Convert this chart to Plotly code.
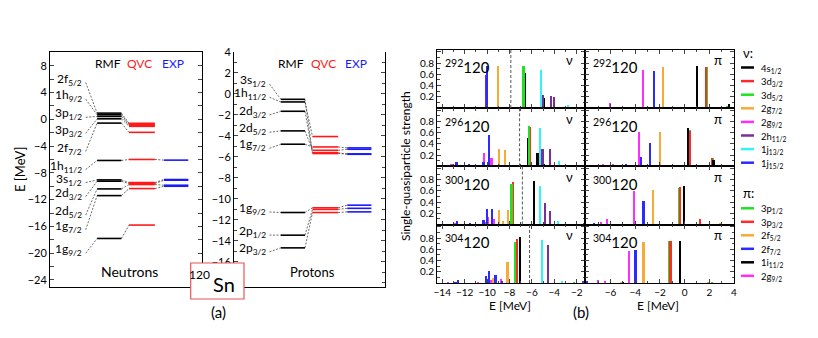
import plotly.graph_objects as go

W, H = 818, 338
FONT = "Lato"

# ---------------- panel (a): 120Sn levels ----------------
n_labels = ["2f<sub>5/2</sub>", "1h<sub>9/2</sub>", "3p<sub>1/2</sub>", "3p<sub>3/2</sub>", "2f<sub>7/2</sub>",
            "1h<sub>11/2</sub>", "3s<sub>1/2</sub>", "2d<sub>3/2</sub>", "2d<sub>5/2</sub>", "1g<sub>7/2</sub>",
            "1g<sub>9/2</sub>"]
n_label_y = [6.0, 3.5, 0.8, -1.6, -4.3, -7.0, -8.95, -11.05, -13.8, -16.0, -19.5]
n_rmf = [0.92, 0.67, 0.42, 0.07, -0.57, -6.15, -9.05, -9.25, -10.4, -11.4, -17.8]
n_qvc = [-0.6, -0.75, -0.9, -1.05, -1.95, -6.0, -9.45, -9.6, -9.75, -10.35, -15.8]
n_exp = [None, None, None, None, None, -6.1, -9.0, -9.1, -9.85, -10.0, None]

p_labels = ["3s<sub>1/2</sub>", "1h<sub>11/2</sub>", "2d<sub>3/2</sub>", "2d<sub>5/2</sub>", "1g<sub>7/2</sub>",
            "1g<sub>9/2</sub>", "2p<sub>1/2</sub>", "2p<sub>3/2</sub>"]
p_label_y = [1.3, 0.03, -1.65, -3.3, -4.83, -10.9, -13.1, -14.7]
p_rmf = [-0.51, -0.76, -1.65, -3.52, -4.79, -11.3, -13.46, -14.67]
p_qvc = [-5.68, -4.06, -5.6, -5.37, -5.05, -10.85, -11.0, -11.3]
p_exp = [-5.71, None, -5.75, -5.27, -5.14, -10.6, -10.9, -11.24]

# ---------------- panel (b): strength distributions ----------------
nuclei = ["292", "296", "300", "304"]
fermi_nu = [-7.88, -7.1, -6.85, -6.21]

nu_292 = [("2g9", -13.16, 0.03), ("1j15", -12.71, 0.03), ("2g9", -10.9, 0.03), ("2g9", -10.6, 0.02),
          ("2h11", -10.03, 0.6), ("1j15", -9.95, 0.75), ("2g7", -8.99, 0.76),
          ("3d3", -6.8, 0.75), ("3d5", -6.72, 0.75), ("4s1", -6.6, 0.63),
          ("1j13", -5.16, 0.69), ("2h11", -4.98, 0.24), ("4s1", -4.89, 0.19), ("3d5", -4.77, 0.03),
          ("3d3", -4.5, 0.03), ("2h11", -4.3, 0.22), ("2h11", -3.97, 0.2), ("4s1", -3.0, 0.02),
          ("1j13", -2.77, 0.06)]
pi_292 = [("2f7", -6.24, 0.03), ("2g9", -6.0, 0.1), ("2f5", -3.8, 0.03), ("3p1", -3.7, 0.02),
          ("2g9", -3.34, 0.68), ("2f7", -2.45, 0.67), ("2f5", -1.73, 0.74), ("1i11", 1.04, 0.76),
          ("3p3", 1.74, 0.74), ("3p1", 1.82, 0.74), ("3p1", 3.48, 0.04), ("1i11", 3.64, 0.08)]

nu_296 = [("2g9", -14.0, 0.02), ("2g9", -13.16, 0.05), ("1j15", -12.7, 0.07), ("1j15", -11.58, 0.04),
          ("2g7", -11.1, 0.02), ("1j15", -10.3, 0.08), ("2g9", -10.22, 0.24), ("1j15", -9.8, 0.56),
          ("2g9", -9.58, 0.15), ("2g7", -8.9, 0.3), ("2g9", -8.65, 0.02), ("2g7", -8.4, 0.29),
          ("4s1", -6.32, 0.5), ("3d5", -6.2, 0.72), ("3d3", -6.12, 0.7), ("4s1", -5.48, 0.24),
          ("1j13", -5.26, 0.68), ("2h11", -5.03, 0.31), ("4s1", -4.9, 0.05), ("2h11", -4.36, 0.31),
          ("1j13", -3.58, 0.1), ("1j15", -2.8, 0.03), ("1j13", -2.55, 0.03)]
pi_296 = [("2f7", -7.3, 0.02), ("2g9", -6.58, 0.05), ("2g9", -5.8, 0.04), ("2f7", -4.71, 0.05),
          ("2g9", -3.67, 0.61), ("2f7", -3.52, 0.17), ("3p1", -3.4, 0.02), ("2f7", -2.75, 0.42),
          ("2f5", -2.0, 0.61), ("1i11", 0.32, 0.68), ("3p1", 0.42, 0.65), ("3p3", 0.49, 0.63),
          ("3p3", 2.22, 0.15), ("3p1", 2.28, 0.15), ("1i11", 2.36, 0.12)]

nu_300 = [("2g9", -12.86, 0.03), ("1j15", -12.65, 0.05), ("1j15", -11.5, 0.02), ("1j15", -10.29, 0.08),
          ("2g9", -10.18, 0.04), ("1j15", -10.0, 0.27), ("2g9", -9.88, 0.12), ("1j15", -9.55, 0.27),
          ("2g9", -9.38, 0.1), ("2g7", -8.9, 0.25), ("2g7", -8.55, 0.06), ("2g7", -8.1, 0.25),
          ("3d5", -7.8, 0.72), ("3d3", -7.7, 0.76), ("4s1", -5.79, 0.77), ("1j13", -5.25, 0.69),
          ("2h11", -4.8, 0.38), ("2h11", -4.36, 0.24), ("1j13", -3.65, 0.05), ("2h11", -1.35, 0.03)]
pi_300 = [("2f7", -7.3, 0.03), ("2g9", -6.73, 0.04), ("2g9", -6.27, 0.09), ("2g9", -4.06, 0.6),
          ("2f7", -3.31, 0.42), ("2f5", -2.56, 0.62), ("3p1", -0.44, 0.65), ("3p3", -0.37, 0.66),
          ("1i11", -0.02, 0.69), ("3p3", 1.26, 0.09), ("2f5", 2.9, 0.01)]

nu_304 = [("2g9", -13.46, 0.02), ("1j15", -12.8, 0.03), ("1j15", -12.56, 0.06), ("2g9", -10.77, 0.02),
          ("1j15", -10.1, 0.14), ("2g9", -10.0, 0.05), ("1j15", -9.82, 0.22), ("2g9", -9.62, 0.06),
          ("2g7", -9.43, 0.1), ("1j15", -9.22, 0.16), ("2g9", -8.74, 0.08), ("1j15", -8.62, 0.04),
          ("2g7", -8.15, 0.38), ("3d5", -7.49, 0.74), ("3d3", -7.28, 0.79), ("4s1", -7.04, 0.82),
          ("1j13", -5.05, 0.77), ("2h11", -4.57, 0.69), ("1j13", -3.3, 0.04), ("3d5", -2.19, 0.02),
          ("2h11", -1.43, 0.04)]
pi_304 = [("2f7", -7.9, 0.05), ("2g9", -7.02, 0.06), ("2g9", -6.46, 0.04), ("2f5", -5.1, 0.02),
          ("1i11", -4.98, 0.02), ("2g9", -4.5, 0.58), ("2f7", -3.96, 0.59), ("2f5", -3.31, 0.74),
          ("3p1", -1.22, 0.76), ("3p3", -1.12, 0.76), ("1i11", -0.35, 0.75), ("2f5", 1.9, 0.01),
          ("3p1", 2.27, 0.02)]

nu_orbits = ["4s1", "3d3", "3d5", "2g7", "2g9", "2h11", "1j13", "1j15"]
nu_names = ["4s<sub>1/2</sub>", "3d<sub>3/2</sub>", "3d<sub>5/2</sub>", "2g<sub>7/2</sub>",
            "2g<sub>9/2</sub>", "2h<sub>11/2</sub>", "1j<sub>13/2</sub>", "1j<sub>15/2</sub>"]
pi_orbits = ["3p1", "3p3", "2f5", "2f7", "1i11", "2g9"]
pi_names = ["3p<sub>1/2</sub>", "3p<sub>3/2</sub>", "2f<sub>5/2</sub>", "2f<sub>7/2</sub>",
            "1i<sub>11/2</sub>", "2g<sub>9/2</sub>"]

BLACK, RED, GREEN, ORANGE = "#000000", "#ff2b2b", "#22e022", "#f8aa36"
MAGENTA, PURPLE, CYAN, BLUE = "#ff2eff", "#7a2e9c", "#30f5f5", "#2b2bff"
nu_col = {"4s1": BLACK, "3d3": RED, "3d5": GREEN, "2g7": ORANGE, "2g9": MAGENTA,
          "2h11": PURPLE, "1j13": CYAN, "1j15": BLUE}
pi_col = {"3p1": GREEN, "3p3": RED, "2f5": ORANGE, "2f7": BLUE, "1i11": BLACK, "2g9": MAGENTA}


def fx(p):
    return p / W


def fy(p):
    return 1 - p / H


def ptext(x, y, text, size, **kw):
    # paper-anchored text, pixel coordinates from the top-left corner
    d = dict(x=fx(x), y=fy(y), xref="paper", yref="paper", text=text, showarrow=False,
             xanchor="center", yanchor="middle", font=dict(size=size))
    d.update(kw)
    return d


fig = go.Figure()
annos = []
shapes = []

# ---- level schemes
X_LAB, X_R0, X_R1, X_Q0, X_Q1, X_E0, X_E1 = 0.225, 0.31, 0.47, 0.52, 0.69, 0.75, 0.91
for ax, labels, ly, rmf, qvc, exp, d in [("", n_labels, n_label_y, n_rmf, n_qvc, n_exp, 0.5),
                                         ("2", p_labels, p_label_y, p_rmf, p_qvc, p_exp, 0.35)]:
    xa, ya = "x" + ax, "y" + ax
    dx, dy = [], []
    for i in range(len(labels)):
        dx += [X_LAB + 0.01, X_R0, None, X_R1, X_Q0, None]
        dy += [ly[i] - d, rmf[i], None, rmf[i], qvc[i], None]
        if exp[i] is not None:
            dx += [X_Q1, X_E0, None]
            dy += [qvc[i], exp[i], None]
        annos.append(dict(x=X_LAB, y=ly[i], xref=xa, yref=ya, text=labels[i], showarrow=False,
                          xanchor="right", yanchor="middle", font=dict(size=12, color="black")))
    fig.add_trace(go.Scatter(x=dx, y=dy, xaxis=xa, yaxis=ya, mode="lines",
                             line=dict(color="#444", width=0.8, dash="2px,1.5px"), hoverinfo="skip"))
    for vals, x0, x1, col in [(rmf, X_R0, X_R1, "black"), (qvc, X_Q0, X_Q1, "#ff1a1a"),
                              (exp, X_E0, X_E1, "#1a1aff")]:
        lx, lyy = [], []
        for v in vals:
            if v is None:
                continue
            lx += [x0, x1, None]
            lyy += [v, v, None]
        fig.add_trace(go.Scatter(x=lx, y=lyy, xaxis=xa, yaxis=ya, mode="lines",
                                 line=dict(color=col, width=1.6), hoverinfo="skip"))

hdr = [("RMF", "black", 0.38), ("QVC", "#ff1a1a", 0.59), ("EXP", "#1a1aff", 0.81)]
for t, c, x in hdr:
    annos.append(dict(x=x, y=8.4, xref="x", yref="y", text=t, showarrow=False,
                      xanchor="center", yanchor="middle", font=dict(size=12, color=c)))
    annos.append(dict(x=x, y=2.92, xref="x2", yref="y2", text=t, showarrow=False,
                      xanchor="center", yanchor="middle", font=dict(size=12, color=c)))
annos.append(dict(x=0.52, y=-22.75, xref="x", yref="y", text="Neutrons", showarrow=False,
                  xanchor="center", yanchor="middle", font=dict(size=14)))
annos.append(dict(x=0.52, y=-16.98, xref="x2", yref="y2", text="Protons", showarrow=False,
                  xanchor="center", yanchor="middle", font=dict(size=13)))
annos.append(ptext(20, 170, "E [MeV]", 13, textangle=-90))

axis_common = dict(showgrid=False, zeroline=False, showline=True, linecolor="black", linewidth=1,
                   automargin=False)
layout = dict(
    xaxis=dict(domain=[fx(50), fx(202)], range=[0, 1], anchor="y", mirror=True, showticklabels=False,
               ticks="", **axis_common),
    yaxis=dict(domain=[fy(287), fy(52)], range=[-25.05, 10.05], anchor="x", mirror="ticks",
               tickvals=list(range(-24, 9, 4)), ticks="inside", ticklen=4,
               minor=dict(tickvals=list(range(-24, 9, 2)), ticks="inside", ticklen=4),
               tickfont=dict(size=11), **axis_common),
    xaxis2=dict(domain=[fx(234), fx(385)], range=[0, 1], anchor="y2", showticklabels=False,
                ticks="", **axis_common),
    yaxis2=dict(domain=[fy(287), fy(52)], range=[-18.4, 4], anchor="x2", mirror="ticks",
                tickvals=list(range(-16, 5, 2)), ticks="inside", ticklen=4,
                minor=dict(tickvals=list(range(-18, 5, 1)), ticks="inside", ticklen=3),
                tickfont=dict(size=11), **axis_common),
)

# ---- strength grid
rows_px = [49.5, 108, 166.3, 224.5, 283]
cols_px = [437, 585, 734]
nu_data = [nu_292, nu_296, nu_300, nu_304]
pi_data = [pi_292, pi_296, pi_300, pi_304]
for r in range(4):
    for c in range(2):
        k = 3 + 2 * r + c
        xa, ya = "x%d" % k, "y%d" % k
        data = nu_data[r] if c == 0 else pi_data[r]
        cols = nu_col if c == 0 else pi_col
        order = nu_orbits if c == 0 else pi_orbits
        bw = 0.15 if c == 0 else 0.13
        for orb in order:
            xs = [e for o, e, s in data if o == orb]
            ys = [s for o, e, s in data if o == orb]
            if xs:
                fig.add_trace(go.Bar(x=xs, y=ys, xaxis=xa, yaxis=ya, width=bw,
                                     marker=dict(color=cols[orb], line=dict(width=0)), hoverinfo="skip"))
        if c == 0:
            xr = [-14.47, -1.26]
            tv = list(range(-14, -1, 2))
            mv = list(range(-14, -1, 1))
        else:
            xr = [-8.07, 4.0]
            tv = list(range(-6, 5, 2))
            mv = list(range(-8, 5, 1))
        layout["xaxis%d" % k] = dict(domain=[fx(cols_px[c]), fx(cols_px[c + 1])], range=xr, anchor=ya,
                                     mirror="ticks", tickvals=tv, ticks="inside", ticklen=4,
                                     minor=dict(tickvals=mv, ticks="inside", ticklen=2.5),
                                     showticklabels=(r == 3), tickfont=dict(size=10), **axis_common)
        layout["yaxis%d" % k] = dict(domain=[fy(rows_px[r + 1]), fy(rows_px[r])], range=[0, 1.04],
                                     anchor=xa, mirror="ticks", tickvals=[0.2, 0.4, 0.6, 0.8, 1.0],
                                     ticktext=["0.2", "0.4", "0.6", "0.8", ""], ticks="inside", ticklen=4,
                                     minor=dict(tickvals=[0.1, 0.3, 0.5, 0.7, 0.9], ticks="inside", ticklen=2.5),
                                     showticklabels=(c == 0), tickfont=dict(size=10), **axis_common)
        annos.append(ptext(cols_px[c] + 6, rows_px[r] + 17, "<sup>%s</sup>120" % nuclei[r], 15,
                           xanchor="left"))
        annos.append(ptext(cols_px[c + 1] - 16, rows_px[r] + 11, "ν" if c == 0 else "π", 13))
        if c == 0:
            shapes.append(dict(type="line", xref=xa, yref=ya + " domain", x0=fermi_nu[r], x1=fermi_nu[r],
                               y0=0, y1=1, line=dict(color="#555", width=1, dash="3px,2px")))

annos.append(ptext(405, 166, "Single-quasiparticle strength", 12, textangle=-90))
annos.append(ptext(510, 305, "E [MeV]", 12))
annos.append(ptext(658, 305, "E [MeV]", 12))

# ---- legends
annos.append(ptext(741, 53, "ν:", 13, xanchor="left"))
for i, (orb, name) in enumerate(zip(nu_orbits, nu_names)):
    yy = 67.5 + i * 13.6
    shapes.append(dict(type="line", xref="paper", yref="paper", x0=fx(741), x1=fx(754), y0=fy(yy), y1=fy(yy),
                       line=dict(color=nu_col[orb], width=2.5)))
    annos.append(ptext(759, yy + 1, name, 9.5, xanchor="left"))
annos.append(ptext(741, 193, "π:", 13, xanchor="left"))
for i, (orb, name) in enumerate(zip(pi_orbits, pi_names)):
    yy = 208.3 + i * 13.5
    shapes.append(dict(type="line", xref="paper", yref="paper", x0=fx(741), x1=fx(754), y0=fy(yy), y1=fy(yy),
                       line=dict(color=pi_col[orb], width=2.5)))
    annos.append(ptext(759, yy + 1, name, 9.5, xanchor="left"))

# ---- 120Sn box and panel tags
shapes.append(dict(type="rect", xref="paper", yref="paper", x0=fx(190.7), x1=fx(244), y0=fy(299), y1=fy(263),
                   line=dict(color="#e8555a", width=1.2), fillcolor="white", layer="above"))
annos.append(ptext(212, 274, "120", 12, xanchor="right"))
annos.append(ptext(211, 284, "Sn", 20, xanchor="left"))
annos.append(ptext(218, 312, "(a)", 15))
annos.append(ptext(581, 312, "(b)", 15))

fig.update_layout(**layout)
fig.update_layout(template="none", width=W, height=H, margin=dict(l=0, r=0, t=0, b=0, pad=0),
                  showlegend=False, barmode="overlay", bargap=0, plot_bgcolor="white",
                  paper_bgcolor="white", font=dict(family=FONT, color="black"),
                  annotations=annos, shapes=shapes)
fig.write_html("out.html", config={"displayModeBar": False},
               post_script="document.body.style.margin='0';")
